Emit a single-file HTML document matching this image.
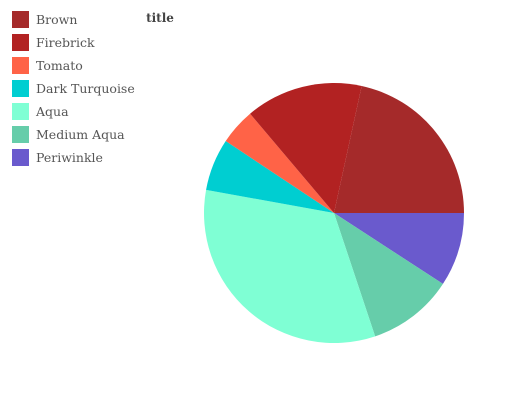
<!DOCTYPE html>
<html><head><meta charset="utf-8"><style>
body{margin:0;width:532px;height:400px;background:#fff;overflow:hidden;font-family:"DejaVu Serif","Liberation Serif",serif}
</style></head><body>
<svg width="532" height="400" id="chart">
<text x="160" y="22" text-anchor="middle" font-size="12" font-weight="bold" fill="#444">title</text>
<g id="slices"></g>
<g id="legend"></g>
</svg>
<script>
const legendLabels=["Brown","Firebrick","Tomato","Dark Turquoise","Aqua","Medium Aqua","Periwinkle"];
const legendColors=["#a52a2a","#b22222","#ff6347","#00ced1","#7fffd4","#66cdaa","#6a5acd"];
const sliceOrder=["Brown","Periwinkle","Medium Aqua","Aqua","Dark Turquoise","Tomato","Firebrick"];
const sliceValues=[21.6,9.2,10.7,33.0,6.5,4.5,14.6];
const ns="http://www.w3.org/2000/svg";
const cx=334,cy=213,r=130,startDeg=12.3;
const total=sliceValues.reduce((a,b)=>a+b,0);
let ang=startDeg;
const sg=document.getElementById('slices');
function pt(a){const t=a*Math.PI/180;return [cx+r*Math.sin(t),cy-r*Math.cos(t)];}
sliceOrder.forEach((name,i)=>{
  const sweep=sliceValues[i]/total*360;
  const p1=pt(ang),p2=pt(ang+sweep);
  const p=document.createElementNS(ns,'path');
  p.setAttribute('d',`M${cx},${cy}L${p1[0]},${p1[1]}A${r},${r} 0 ${sweep>180?1:0} 1 ${p2[0]},${p2[1]}Z`);
  p.setAttribute('fill',legendColors[legendLabels.indexOf(name)]);
  
  
  sg.appendChild(p);
  ang+=sweep;
});
const lg=document.getElementById('legend');
legendLabels.forEach((name,i)=>{
  const g=document.createElementNS(ns,'g');
  
  
  const rc=document.createElementNS(ns,'rect');
  rc.setAttribute('x',12);rc.setAttribute('y',11+i*23);rc.setAttribute('width',17);rc.setAttribute('height',17);
  rc.setAttribute('fill',legendColors[i]);
  const t=document.createElementNS(ns,'text');
  t.setAttribute('x',36);t.setAttribute('y',24+i*23);t.setAttribute('font-size','12.5');t.setAttribute('fill','#555');
  t.textContent=name;
  g.appendChild(rc);g.appendChild(t);lg.appendChild(g);
});
</script>
</body></html>
